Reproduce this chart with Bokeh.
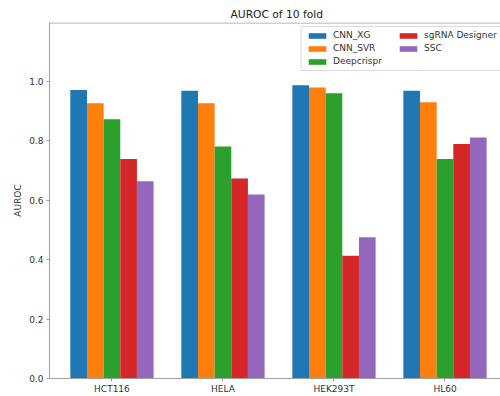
from bokeh.plotting import figure
from bokeh.models import (Range1d, FixedTicker, PrintfTickFormatter, Legend, LegendItem,
                          BoxAnnotation)
from bokeh.embed import file_html
from bokeh.resources import INLINE

cell_lines = ["HCT116", "HELA", "HEK293T", "HL60"]
methods = ["CNN_XG", "CNN_SVR", "Deepcrispr", "sgRNA Designer", "SSC"]
colors = ["#1f77b4", "#ff7f0e", "#2ca02c", "#d62728", "#9467bd"]
cnn_xg = [0.971, 0.968, 0.987, 0.968]
cnn_svr = [0.926, 0.926, 0.979, 0.930]
deepcrispr = [0.872, 0.781, 0.960, 0.739]
sgrna_designer = [0.739, 0.673, 0.413, 0.789]
ssc = [0.664, 0.619, 0.475, 0.811]
series = [cnn_xg, cnn_svr, deepcrispr, sgrna_designer, ssc]
y_ticks = [0.0, 0.2, 0.4, 0.6, 0.8, 1.0]

FONT = "DejaVu Sans"
W, H = 500, 396
bar_w = 0.15
X_START, X_END = -0.5625, 3.5
Y_TOP = 1.198
PX_Y = Y_TOP / 356.0  # about one pixel in y data units

p = figure(width=W, height=H, output_backend="svg", toolbar_location=None,
           x_range=Range1d(X_START, X_END), y_range=Range1d(0, Y_TOP),
           min_border_left=49, min_border_right=0, min_border_top=22, min_border_bottom=5,
           background_fill_color="white", border_fill_color="white")

renderers = []
xs = list(range(len(cell_lines)))
for i, (vals, col) in enumerate(zip(series, colors)):
    off = (i - 2) * bar_w
    r = p.vbar(x=[x + off for x in xs], top=vals, width=bar_w, bottom=0,
               fill_color=col, line_color=None)
    renderers.append(r)

p.title.text = "AUROC of 10 fold"
p.title.align = "left"
p.title.offset = 181
p.title.text_font = FONT
p.title.text_font_size = "10.7px"
p.title.text_font_style = "normal"
p.title.text_color = "#222222"
p.title.standoff = 3

p.xgrid.visible = False
p.ygrid.visible = False
p.outline_line_color = None

axis_col = "#a0a0a0"
for ax in (p.xaxis[0], p.yaxis[0]):
    ax.axis_line_color = axis_col
    ax.major_tick_line_color = axis_col
    ax.minor_tick_line_color = None
    ax.major_tick_out = 3
    ax.major_tick_in = 0
    ax.major_label_text_font = FONT
    ax.major_label_text_font_size = "9px"
    ax.major_label_text_color = "#333333"
    ax.axis_label_text_font = FONT
    ax.axis_label_text_font_size = "9px"
    ax.axis_label_text_font_style = "normal"
    ax.axis_label_text_color = "#333333"

p.xaxis.ticker = FixedTicker(ticks=xs)
p.xaxis.major_label_overrides = {i: n for i, n in enumerate(cell_lines)}
p.xaxis.major_label_standoff = 2

p.yaxis.ticker = FixedTicker(ticks=y_ticks)
p.yaxis.formatter = PrintfTickFormatter(format="%.1f")
p.yaxis.axis_label = "AUROC"
p.yaxis.major_label_standoff = 3
p.yaxis.axis_label_standoff = 3

# top spine as a 1px filled strip along the top of the frame
p.add_layout(BoxAnnotation(top=Y_TOP, bottom=Y_TOP - PX_Y,
                           fill_color=axis_col, fill_alpha=1.0, line_color=None))

# faint legend frame (grey box under a white box, fills only)
p.add_layout(BoxAnnotation(left=1.70, right=3.7, top=1.186, bottom=1.035,
                           fill_color="#dcdcdc", fill_alpha=1.0, line_color=None))
p.add_layout(BoxAnnotation(left=1.709, right=3.7, top=1.1826, bottom=1.0384,
                           fill_color="white", fill_alpha=1.0, line_color=None))

def make_legend(idx, loc):
    items = [LegendItem(label=methods[i], renderers=[renderers[i]]) for i in idx]
    lg = Legend(items=items, location=loc, orientation="vertical",
                padding=0, margin=0, spacing=3,
                glyph_width=22, glyph_height=7, label_standoff=5, label_height=10,
                label_text_font=FONT, label_text_font_size="9px", label_text_color="#333333",
                border_line_color=None, background_fill_alpha=0)
    p.add_layout(lg, "center")

make_legend([0, 1, 2], (257, 312))
make_legend([3, 4], (348, 325))

open("out.html", "w").write(file_html(p, INLINE))
